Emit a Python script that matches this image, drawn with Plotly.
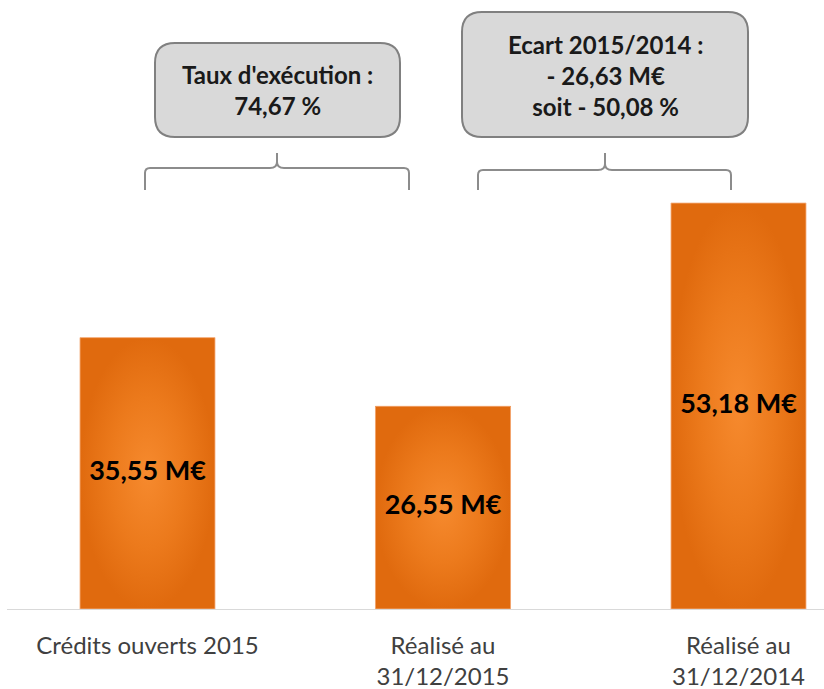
import plotly.graph_objects as go

# Budget figures (millions of euros)
categories = ["Crédits ouverts 2015", "Réalisé au<br>31/12/2015", "Réalisé au<br>31/12/2014"]
values = [35.55, 26.55, 53.18]

# Headline figures shown in the callouts
taux_execution = 74.67   # %
ecart = -26.63           # M€
ecart_pct = -50.08       # %


def fr(num, unit):
    """French number formatting with a decimal comma."""
    return f"{num:.2f}".replace(".", ",") + unit


def fr_signed(num, unit):
    sign = "- " if num < 0 else ""
    return sign + fr(abs(num), unit)


# Geometry of the drawing area (pixels)
W, H = 824, 689
L_MARGIN, B_MARGIN = 7, 80
PLOT_W = W - L_MARGIN
PLOT_H = H - B_MARGIN


def px(x, y):
    """Pixel position -> paper coordinates."""
    return (x - L_MARGIN) / PLOT_W, (PLOT_H - y) / PLOT_H


def path_from(points_cmds):
    out = []
    for cmd, pts in points_cmds:
        coords = " ".join(f"{px(x, y)[0]:.5f},{px(x, y)[1]:.5f}" for x, y in pts)
        out.append(f"{cmd} {coords}")
    return " ".join(out)


def rounded_box(x0, y0, x1, y1, r):
    return path_from([
        ("M", [(x0 + r, y0)]),
        ("L", [(x1 - r, y0)]),
        ("Q", [(x1, y0), (x1, y0 + r)]),
        ("L", [(x1, y1 - r)]),
        ("Q", [(x1, y1), (x1 - r, y1)]),
        ("L", [(x0 + r, y1)]),
        ("Q", [(x0, y1), (x0, y1 - r)]),
        ("L", [(x0, y0 + r)]),
        ("Q", [(x0, y0), (x0 + r, y0)]),
        ("Z", []),
    ])


def brace(xl, xr, xc, y_bar, y_end, y_tip):
    r = 5
    return path_from([
        ("M", [(xl, y_end)]),
        ("L", [(xl, y_bar + r)]),
        ("Q", [(xl, y_bar), (xl + r, y_bar)]),
        ("L", [(xc - 7, y_bar)]),
        ("Q", [(xc, y_bar), (xc, y_bar - 6)]),
        ("L", [(xc, y_tip)]),
        ("M", [(xc, y_bar - 6)]),
        ("Q", [(xc, y_bar), (xc + 7, y_bar)]),
        ("L", [(xr - r, y_bar)]),
        ("Q", [(xr, y_bar), (xr, y_bar + r)]),
        ("L", [(xr, y_end)]),
    ])


xpos = list(range(len(categories)))
bar_w = 0.457
CENTER = "#F68A2E"
MID = "#EC7A1C"
EDGE = "#E06A0E"
FONT = "Lato"

fig = go.Figure()

fig.add_trace(go.Bar(
    x=xpos, y=values, width=bar_w,
    marker=dict(color=EDGE, line=dict(width=0)),
    hoverinfo="skip", showlegend=False,
))

# Radial shading over each bar
for x, v in zip(xpos, values):
    x0, x1 = x - bar_w / 2, x + bar_w / 2
    fig.add_trace(go.Scatter(
        x=[x0, x1, x1, x0, x0], y=[0, 0, v, v, 0],
        mode="lines", fill="toself",
        line=dict(width=1, color="rgba(246,180,135,0.8)"),
        fillgradient=dict(type="radial",
                          colorscale=[[0, CENTER], [0.55, MID], [1, EDGE]]),
        hoverinfo="skip", showlegend=False,
    ))

# Value labels inside bars
fig.add_trace(go.Scatter(
    x=xpos, y=[v / 2 for v in values],
    mode="text",
    text=[fr(v, " M€") for v in values],
    textfont=dict(family=FONT, size=27, color="#000000", weight="bold"),
    hoverinfo="skip", showlegend=False,
))

shapes = [
    dict(type="path", xref="paper", yref="paper",
         path=brace(145, 409, 277, 168, 190, 153),
         line=dict(color="#8C8C8C", width=2)),
    dict(type="path", xref="paper", yref="paper",
         path=brace(478, 731, 605, 170, 190, 153),
         line=dict(color="#8C8C8C", width=2)),
    dict(type="path", xref="paper", yref="paper",
         path=rounded_box(155, 43, 400, 137, 20),
         fillcolor="#D9D9D9", line=dict(color="#808080", width=2)),
    dict(type="path", xref="paper", yref="paper",
         path=rounded_box(462, 12, 748, 137, 20),
         fillcolor="#D9D9D9", line=dict(color="#808080", width=2)),
]

bx1, by1 = px((155 + 400) / 2, 90)
bx2, by2 = px((462 + 748) / 2, 76)
callout_font = dict(family=FONT, size=24, color="#1A1A1A", weight="bold")
annotations = [
    dict(xref="paper", yref="paper", x=bx1, y=by1, showarrow=False,
         xanchor="center", yanchor="middle",
         text=f"Taux d'exécution :<br>{fr(taux_execution, ' %')}",
         font=callout_font, align="center"),
    dict(xref="paper", yref="paper", x=bx2, y=by2, showarrow=False,
         xanchor="center", yanchor="middle",
         text=(f"Ecart 2015/2014 :<br>{fr_signed(ecart, ' M€')}"
               f"<br>soit {fr_signed(ecart_pct, ' %')}"),
         font=callout_font, align="center"),
]

y_max = PLOT_H / (406 / values[2])
x_start = -(147.5 - L_MARGIN) / 295.5

fig.update_layout(
    width=W, height=H,
    margin=dict(l=L_MARGIN, r=0, t=0, b=B_MARGIN),
    paper_bgcolor="white", plot_bgcolor="white",
    shapes=shapes, annotations=annotations,
    bargap=0,
    xaxis=dict(
        range=[x_start, x_start + PLOT_W / 295.5],
        tickvals=xpos, ticktext=categories,
        showgrid=False, zeroline=False,
        showline=True, linecolor="#D9D9D9", linewidth=1,
        ticks="", ticklabelstandoff=15,
        tickfont=dict(family=FONT, size=24, color="#404040"),
        fixedrange=True,
    ),
    yaxis=dict(range=[0, y_max], visible=False, fixedrange=True),
)

fig.write_html("out.html")
